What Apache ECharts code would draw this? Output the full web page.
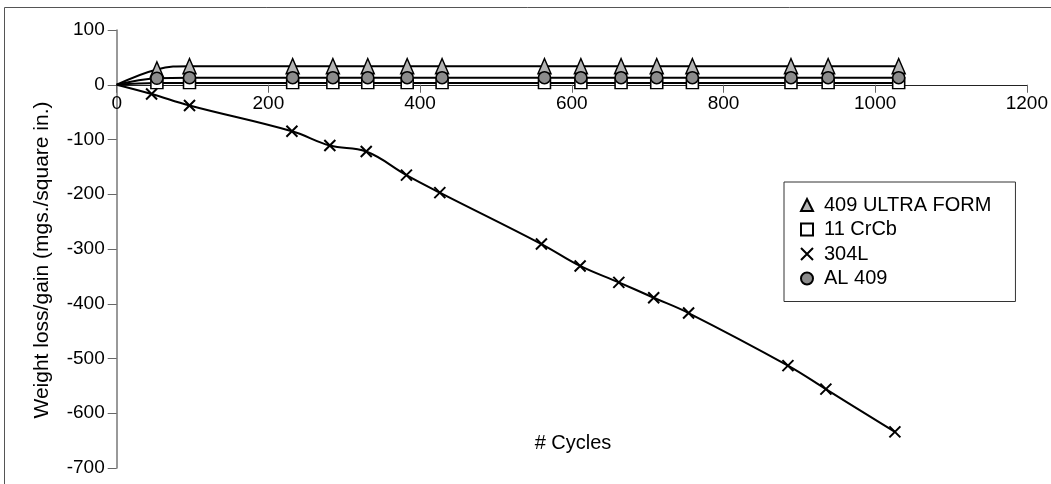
<!DOCTYPE html>
<html>
<head>
<meta charset="utf-8">
<script src="https://cdn.jsdelivr.net/npm/echarts@6/dist/echarts.min.js"></script>
<style>
html,body{margin:0;padding:0;background:#fff;}
#chart{width:1051px;height:484px;}
</style>
</head>
<body>
<div id="chart"></div>
<script>
// ---- data ----
const seriesNames = ['409 ULTRA FORM', '11 CrCb', '304L', 'AL 409'];
const cycles = [53, 96, 232, 285, 331, 383, 429, 564, 612, 665, 712, 759, 889, 938, 1031];
const cycles304L = [46, 96, 231, 281, 329, 382, 426, 560, 611, 662, 708, 754, 885, 935, 1026];
const ultraForm = [28, 34, 34, 34, 34, 34, 34, 34, 34, 34, 34, 34, 34, 34, 34];
const crcb = [3, 3, 3, 3, 3, 3, 3, 3, 3, 3, 3, 3, 3, 3, 3];
const l304 = [-17, -38, -85, -111, -122, -165, -197, -291, -331, -361, -389, -417, -513, -556, -634];
const al409 = [12, 13, 13, 13, 13, 13, 13, 13, 13, 13, 13, 13, 13, 13, 13];
const xTicks = [0, 200, 400, 600, 800, 1000, 1200];
const yTicks = [100, 0, -100, -200, -300, -400, -500, -600, -700];

const FONT = "'Liberation Sans', Arial, Helvetica, sans-serif";

const GRID_TOP = 30, GRID_BOTTOM = 16, H = 484;
const plotH = H - GRID_TOP - GRID_BOTTOM;
const yMax = yTicks[0], yMin = yTicks[yTicks.length - 1];
// move the x axis up so it sits on y = 0
const xAxisOffset = -(plotH * (0 - yMin) / (yMax - yMin));

function build(xs, ys) {
  const d = [{ value: [0, 0], symbol: 'none' }];
  for (let i = 0; i < xs.length; i++) d.push([xs[i], ys[i]]);
  return d;
}

const xPath = 'path://M0,0L10,10M10,0L0,10';

const chart = echarts.init(document.getElementById('chart'), null, { renderer: 'canvas' });
chart.setOption({
  animation: false,
  backgroundColor: '#fff',
  grid: { left: 116.7, right: 23.3, top: GRID_TOP, bottom: GRID_BOTTOM, containLabel: false },
  xAxis: {
    type: 'value', position: 'bottom', offset: xAxisOffset,
    min: xTicks[0], max: xTicks[xTicks.length - 1], interval: 200,
    axisLine: { show: true, onZero: false, lineStyle: { color: '#222', width: 1 } },
    axisTick: { show: true, length: 8, inside: false, lineStyle: { color: '#666', width: 1 } },
    axisLabel: { color: '#000', fontSize: 19, fontFamily: FONT, margin: 10, formatter: v => String(v) },
    splitLine: { show: false }
  },
  yAxis: {
    type: 'value',
    min: yMin, max: yMax, interval: 100,
    axisLine: { show: true, onZero: false, lineStyle: { color: '#777', width: 1.5 } },
    axisTick: { show: true, length: 9, inside: false, lineStyle: { color: '#666', width: 1 } },
    axisLabel: { color: '#000', fontSize: 19, fontFamily: FONT, margin: 12 },
    splitLine: { show: false }
  },
  legend: {
    orient: 'vertical',
    left: 784, top: 182,
    padding: [13, 24, 13, 16],
    itemGap: 4.5,
    itemWidth: 12, itemHeight: 12,
    borderColor: '#333', borderWidth: 1,
    backgroundColor: '#fff',
    textStyle: { color: '#000', fontSize: 20, fontFamily: FONT, padding: [0, 0, 0, 6] },
    data: [
      { name: seriesNames[0], icon: 'triangle' },
      { name: seriesNames[1], icon: 'rect' },
      { name: seriesNames[2], icon: xPath, itemStyle: { color: '#000', borderColor: '#000', borderWidth: 2 } },
      { name: seriesNames[3], icon: 'circle' }
    ]
  },
  graphic: [
    { type: 'line', shape: { x1: 4.5, y1: 7.5, x2: 1051, y2: 7.5 }, style: { stroke: '#555', lineWidth: 1 }, silent: true },
    { type: 'line', shape: { x1: 4.5, y1: 7.5, x2: 4.5, y2: 484 }, style: { stroke: '#555', lineWidth: 1 }, silent: true },
    { type: 'text', x: 42, y: 260, rotation: Math.PI / 2,
      style: { text: 'Weight loss/gain (mgs./square in.)', fill: '#000', font: '21px ' + FONT, align: 'center', verticalAlign: 'middle' } },
    { type: 'text', x: 573, y: 443,
      style: { text: '# Cycles', fill: '#000', font: '20px ' + FONT, align: 'center', verticalAlign: 'middle' } }
  ],
  series: [
    {
      name: seriesNames[0], type: 'line', smooth: 0.4,
      data: build(cycles, ultraForm),
      symbol: 'triangle', symbolSize: [13, 15], showAllSymbol: true,
      lineStyle: { color: '#000', width: 2 },
      itemStyle: { color: '#b4b4b4', borderColor: '#000', borderWidth: 1.5 }
    },
    {
      name: seriesNames[1], type: 'line', smooth: 0.4,
      data: build(cycles, crcb),
      symbol: 'rect', symbolSize: [12, 11], showAllSymbol: true,
      lineStyle: { color: '#000', width: 2 },
      itemStyle: { color: '#fff', borderColor: '#000', borderWidth: 1.5 }
    },
    {
      name: seriesNames[2], type: 'line', smooth: 0.4,
      data: build(cycles304L, l304),
      symbol: xPath, symbolSize: 11, showAllSymbol: true,
      lineStyle: { color: '#000', width: 2 },
      itemStyle: { color: '#000', borderColor: '#000', borderWidth: 2 }
    },
    {
      name: seriesNames[3], type: 'line', smooth: 0.4,
      data: build(cycles, al409),
      symbol: 'circle', symbolSize: 12, showAllSymbol: true,
      lineStyle: { color: '#000', width: 2 },
      itemStyle: { color: '#8c8c8c', borderColor: '#000', borderWidth: 1.5 }
    }
  ]
});
</script>
</body>
</html>
